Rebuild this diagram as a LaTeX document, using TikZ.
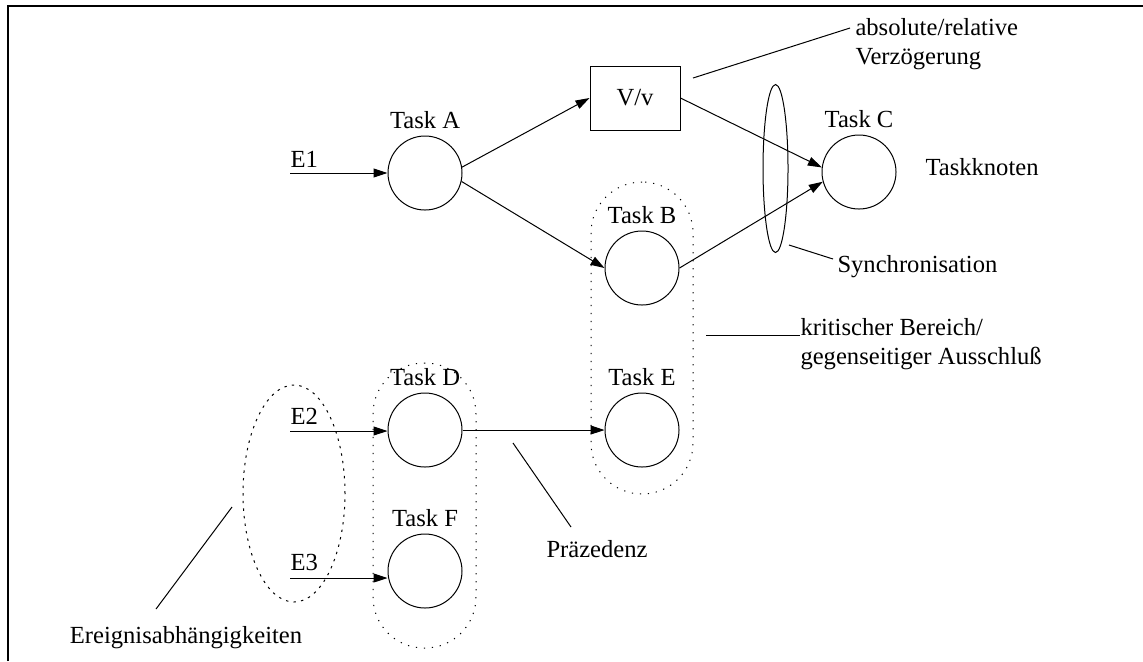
\documentclass[tikz,border=0pt]{standalone}
\usepackage{fontspec}
\setmainfont{Liberation Serif}
\usetikzlibrary{arrows.meta,shapes.geometric}

\begin{document}
\begin{tikzpicture}[x=0.5pt,y=-0.5pt,line width=0.5pt,
  every node/.style={font=\fontsize{12.3pt}{14.5pt}\selectfont},
  task/.style={circle,draw,minimum size=37pt,inner sep=0pt},
  flow/.style={-{Triangle[length=7pt,width=4.5pt]}},
  note/.style={inner sep=0pt},
  dotline/.style={dash pattern=on 0.6pt off 3.4pt},
  dashline/.style={dash pattern=on 1.2pt off 2.6pt},
  group/.style={draw,dotline,rounded corners=25.5pt,minimum width=51pt,inner sep=0pt}]
  \useasboundingbox (0,0) rectangle (1143,661);
  \draw[line width=1pt] (8,661) -- (8,6) -- (1143,6);

  % tasks
  \node[task,label={above:Task A}] (A) at (425,173) {};
  \node[task,label={above:Task B}] (B) at (642,268) {};
  \node[task,label={above:Task C}] (C) at (859,172) {};
  \node[task,label={above:Task D}] (D) at (425,430) {};
  \node[task,label={above:Task E}] (E) at (642,430) {};
  \node[task,label={above:Task F}] (F) at (425,571) {};
  \node[draw,minimum width=45pt,minimum height=32pt,inner sep=0pt] (delay) at (635,98) {V/v};

  % groups
  \node[group,minimum height=156pt] (critBE) at (642,338) {};
  \node[group,minimum width=51.5pt,minimum height=142.5pt] (critDF) at (424.5,505.5) {};
  \node[ellipse,draw,dashline,minimum width=51pt,minimum height=108.5pt,inner sep=0pt] (events) at (294,493.5) {};
  \node[ellipse,draw,minimum width=12.5pt,minimum height=84pt,inner sep=0pt] (sync) at (775.5,168.5) {};

  % events
  \coordinate (e1) at (290,173);
  \coordinate (e2) at (290,431);
  \coordinate (e3) at (290,578);
  \node[note,anchor=south west] (e1txt) at (290,168) {E1};
  \node[note,anchor=south west] (e2txt) at (290,425) {E2};
  \node[note,anchor=south west] (e3txt) at (290,571) {E3};
  \draw[flow] (e1) -- (A);
  \draw[flow] (e2) -- (e2 -| D.west);
  \draw[flow] (e3) -- (e3 -| F.west);

  \draw[flow] (A.9) -- (delay.west);
  \draw[flow] (A.-13) -- (B.west);
  \draw[flow] (delay.east) -- (C.173);
  \draw[flow] (B.east) -- (C.195);
  \draw[flow] (D) -- (E);

  % notes
  \node[note,anchor=west,align=left] (delaytxt) at (855,44) {absolute/relative\\Verzögerung};
  \node[note,anchor=west] (knottxt) at (925,167) {Taskknoten};
  \node[note,anchor=west] (synctxt) at (837,267) {Synchronisation};
  \node[note,anchor=west,align=left] (crittxt) at (800,344) {kritischer Bereich/\\gegenseitiger Ausschluß};
  \node[note,anchor=west] (prectxt) at (546,549) {Präzedenz};
  \node[note] (evttxt) at (186,638) {Ereignisabhängigkeiten};

  \coordinate (p1) at (693,78);  \coordinate (p2) at (850,28);
  \coordinate (p3) at (789,245); \coordinate (p4) at (833,259);
  \coordinate (p5) at (706,335); \coordinate (p6) at (800,335);
  \coordinate (p7) at (513,443); \coordinate (p8) at (571,527);
  \coordinate (p9) at (232,507); \coordinate (p10) at (156,609);
  \draw (p1) -- (p2);
  \draw (p3) -- (p4);
  \draw (p5) -- (p6);
  \draw (p7) -- (p8);
  \draw (p9) -- (p10);
\end{tikzpicture}
\end{document}
